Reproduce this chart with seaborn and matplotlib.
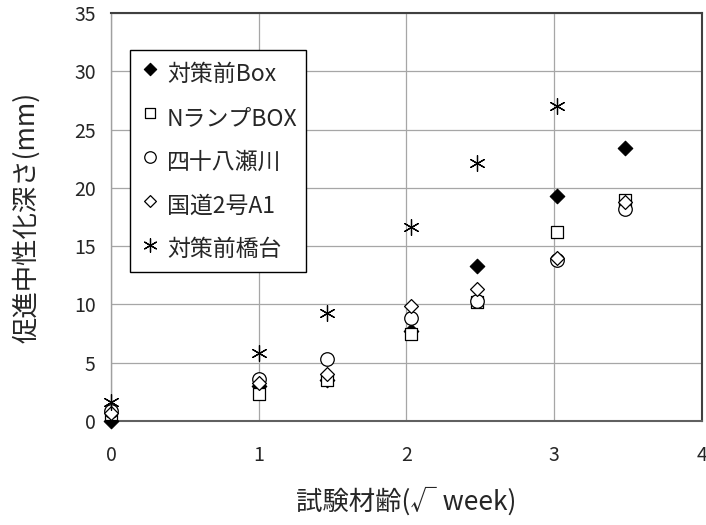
import matplotlib
matplotlib.use("Agg")
import matplotlib.pyplot as plt
import seaborn as sns
import pandas as pd

sns.set_theme(style="white")
plt.rcParams['font.family'] = ['Noto Sans CJK JP', 'DejaVu Sans']

# Test age (square root of weeks) and accelerated carbonation depth (mm)
age_sqrt_week = [0.0, 1.0, 1.46, 2.03, 2.48, 3.02, 3.48]
depth_box_before = [0.0, 3.0, 3.5, 7.7, 13.3, 19.3, 23.4]
depth_n_ramp_box = [0.6, 2.3, 3.5, 7.5, 10.2, 16.2, 19.0]
depth_shijuhasegawa = [0.9, 3.6, 5.3, 8.8, 10.3, 13.8, 18.2]
depth_route2_a1 = [0.7, 3.3, 4.0, 9.9, 11.3, 14.0, 18.8]
depth_abutment_before = [1.6, 5.8, 9.3, 16.6, 22.1, 27.0]

series_names = ["対策前Box", "NランプBOX", "四十八瀬川", "国道2号A1", "対策前橋台"]
series_values = [depth_box_before, depth_n_ramp_box, depth_shijuhasegawa,
                 depth_route2_a1, depth_abutment_before]

styles = {
    "対策前Box": dict(marker="D", s=55, color="black", edgecolor="black", linewidth=0.8),
    "NランプBOX": dict(marker="s", s=85, color="white", edgecolor="black", linewidth=0.9),
    "四十八瀬川": dict(marker="o", s=95, color="white", edgecolor="black", linewidth=0.9),
    "国道2号A1": dict(marker="D", s=50, color="white", edgecolor="black", linewidth=0.9),
    "対策前橋台": dict(marker=(6, 2, 0), s=130, color="black", linewidth=0.9),
}

frames = []
for name, vals in zip(series_names, series_values):
    frames.append(pd.DataFrame({"age": age_sqrt_week[:len(vals)],
                                "depth": vals, "series": name}))
data = pd.concat(frames, ignore_index=True)

fig = plt.figure(figsize=(7.06, 5.25), dpi=100)
ax = fig.add_axes([111 / 706, (525 - 421) / 525, (702 - 111) / 706, (421 - 13) / 525])

for name in series_names:
    sub = data[data["series"] == name]
    sns.scatterplot(data=sub, x="age", y="depth", ax=ax, label=name,
                    clip_on=False, zorder=3, **styles[name])

ax.set_xlim(0, 4)
ax.set_ylim(0, 35)
ax.set_xticks(range(0, 5))
ax.set_yticks(range(0, 36, 5))
ax.set_axisbelow(True)
ax.grid(True, color="#a6a6a6", linewidth=0.9)

ax.tick_params(axis="y", length=8, width=0.8, color="#a6a6a6", pad=3, labelsize=14)
ax.tick_params(axis="x", length=5, width=0.8, color="#a6a6a6", pad=12.5, labelsize=14)

for side in ("top", "right"):
    ax.spines[side].set_color("#404040")
    ax.spines[side].set_linewidth(1.5)
ax.spines["bottom"].set_color("#606060")
ax.spines["bottom"].set_linewidth(1.5)
ax.spines["left"].set_color("#a0a0a0")
ax.spines["left"].set_linewidth(1.0)

ax.set_xlabel("試験材齢(√ week)", fontsize=19, labelpad=15.5)
ax.set_ylabel("促進中性化深さ(mm)", fontsize=19, labelpad=24.5)

leg = ax.legend(loc="upper left", bbox_to_anchor=(0.032, 0.909), borderaxespad=0,
                fontsize=16.5, markerscale=0.85, handletextpad=0.22, handlelength=1.05,
                handleheight=1.7, labelspacing=0.56, borderpad=0.35,
                fancybox=False, framealpha=1, edgecolor="black")
leg.get_frame().set_linewidth(1.0)

fig.savefig("out.png", dpi=100, facecolor="white")
